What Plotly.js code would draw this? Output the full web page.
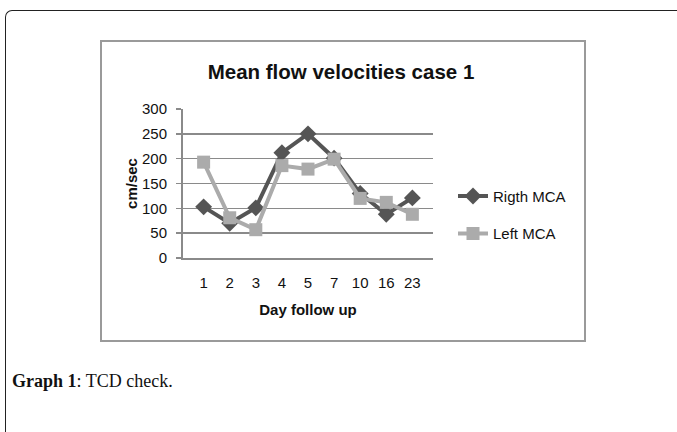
<!DOCTYPE html>
<html>
<head>
<meta charset="utf-8">
<script src="https://cdn.plot.ly/plotly-3.0.1.min.js"></script>
<style>
  html, body { margin: 0; padding: 0; background: #fff; width: 677px; height: 432px; overflow: hidden; }
  #frame { position: absolute; left: 5px; top: 10px; width: 680px; height: 440px;
           border-left: 1.5px solid #222; border-top: 1.5px solid #222; border-top-left-radius: 7px; }
  #box { position: absolute; left: 100px; top: 40px; width: 482px; height: 298px;
         border: 2px solid #9a9a9a; }
  #chart { position: absolute; left: 0; top: 0; width: 677px; height: 432px; }
  #caption { position: absolute; left: 12px; top: 371px; font-family: "Liberation Serif", "DejaVu Serif", serif;
             font-size: 18px; color: #111; white-space: nowrap; }
  #caption b { font-weight: bold; }
</style>
</head>
<body>
<div id="frame"></div>
<div id="box"></div>
<div id="chart"></div>
<div id="caption"><b>Graph 1</b>: TCD check.</div>
<script>
const days = ["1", "2", "3", "4", "5", "7", "10", "16", "23"];
const rightMCA = [103, 70, 101, 212, 250, 201, 130, 88, 121];
const leftMCA = [193, 81, 57, 186, 179, 199, 120, 112, 88];
const yTicks = [0, 50, 100, 150, 200, 250, 300];

const traces = [
  {
    x: days, y: rightMCA, name: "Rigth MCA", type: "scatter", mode: "lines+markers",
    legendgroup: "r",
    line: { color: "#555555", width: 4 },
    marker: { symbol: "diamond", size: 13, color: "#555555" }
  },
  {
    x: days, y: leftMCA, name: "Left MCA", type: "scatter", mode: "lines+markers",
    legendgroup: "l",
    line: { color: "#ababab", width: 4 },
    marker: { symbol: "square", size: 13, color: "#ababab" }
  }
];

const layout = {
  width: 677, height: 432,
  margin: { l: 183, r: 244, t: 109, b: 174 },
  paper_bgcolor: "rgba(0,0,0,0)",
  plot_bgcolor: "rgba(0,0,0,0)",
  font: { family: "Liberation Sans, Arial, sans-serif", size: 15, color: "#111" },
  title: {
    text: "<b>Mean flow velocities case 1</b>",
    font: { family: "Liberation Sans, Arial, sans-serif", size: 20.5, color: "#111" },
    x: 341 / 677, xanchor: "center", xref: "container",
    y: 1 - 72 / 432, yanchor: "middle", yref: "container"
  },
  xaxis: {
    type: "category",
    categoryorder: "array", categoryarray: days,
    showgrid: false,
    showline: true, linecolor: "#8a8a8a", linewidth: 2,
    ticks: "", ticklen: 0,
    ticklabelstandoff: 10,
    tickfont: { size: 15 },
    title: { text: "<b>Day follow up</b>", font: { size: 15 }, standoff: 14 },
    fixedrange: true
  },
  yaxis: {
    range: [0, 300],
    tickvals: yTicks,
    showgrid: true, gridcolor: "#8a8a8a", gridwidth: 1.5,
    zeroline: false,
    showline: true, linecolor: "#8a8a8a", linewidth: 2,
    ticks: "outside", ticklen: 5, tickcolor: "#8a8a8a", tickwidth: 1.5,
    ticklabelstandoff: 6,
    tickfont: { size: 15 },
    title: { text: "<b>cm/sec</b>", font: { size: 15 }, standoff: 1 },
    fixedrange: true
  },
  showlegend: true,
  legend: {
    x: (453 - 183) / 250, xanchor: "left",
    y: 0.29, yanchor: "middle",
    traceorder: "grouped", tracegroupgap: 15,
    font: { size: 15, color: "#111" },
    bgcolor: "rgba(0,0,0,0)"
  }
};

Plotly.newPlot("chart", traces, layout, { displayModeBar: false, staticPlot: true });
</script>
</body>
</html>
